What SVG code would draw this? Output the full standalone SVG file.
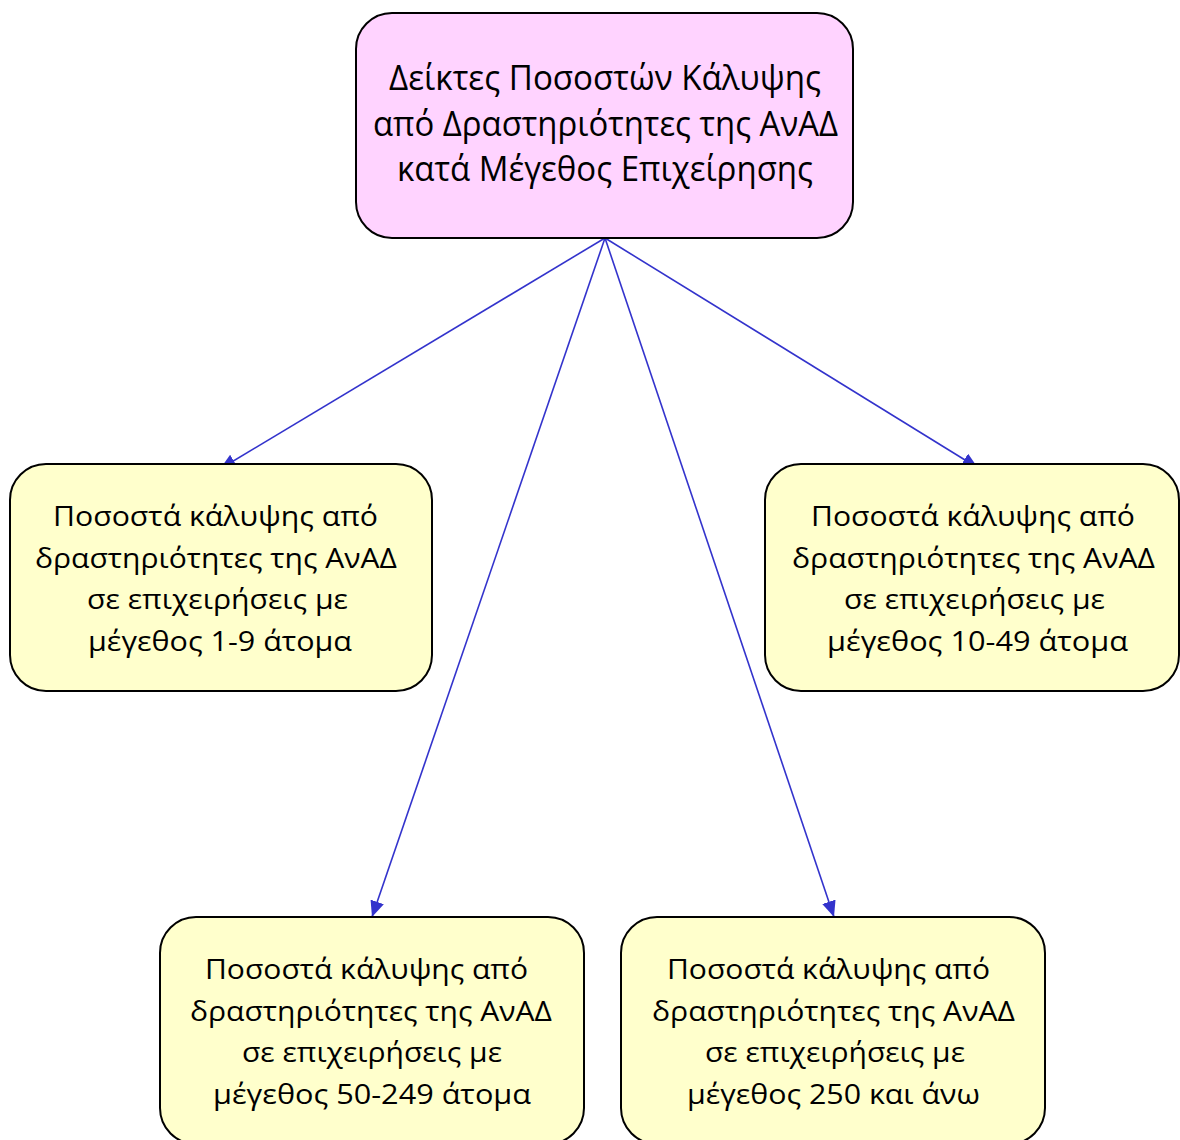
<svg xmlns="http://www.w3.org/2000/svg" width="1180" height="1140" viewBox="0 0 1180 1140">
  <style>
    .box { stroke: #000; stroke-width: 2; }
    .top { fill: #FFD3FF; }
    .sub { fill: #FFFFCC; }
    .t { font-family: "Open Sans", "Noto Sans", "DejaVu Sans", sans-serif; fill: #000; }
    .t1 { font-size: 34px; }
    .t2 { font-size: 28px; }
    .conn { stroke: #3333CC; stroke-width: 1.6; fill: none; marker-end: url(#ah); }
  </style>
  <defs>
    <marker id="ah" markerUnits="userSpaceOnUse" viewBox="0 0 16 14" markerWidth="16" markerHeight="14" refX="16" refY="7" orient="auto">
      <path d="M0,0 L16,7 L0,14 z" fill="#3333CC"/>
    </marker>
  </defs>
  <rect width="1180" height="1140" fill="#fff"/>

  <g id="connectors">
    <line class="conn" x1="605" y1="238" x2="220" y2="469"/>
    <line class="conn" x1="605" y1="238" x2="978" y2="468"/>
    <line class="conn" x1="605" y1="238" x2="372" y2="917"/>
    <line class="conn" x1="605" y1="238" x2="834" y2="917"/>
  </g>

  <g id="root">
    <rect class="box top" x="356" y="13" width="497" height="225" rx="36"/>
    <text class="t t1" x="389" y="90" textLength="432" lengthAdjust="spacingAndGlyphs">Δείκτες Ποσοστών Κάλυψης</text>
    <text class="t t1" x="373" y="136" textLength="465" lengthAdjust="spacingAndGlyphs">από Δραστηριότητες της ΑνΑΔ</text>
    <text class="t t1" x="397" y="181" textLength="416" lengthAdjust="spacingAndGlyphs">κατά Μέγεθος Επιχείρησης</text>
  </g>

  <g id="size-1-9">
    <rect class="box sub" x="10" y="464" width="422" height="227" rx="36"/>
    <text class="t t2" x="53" y="526" textLength="325" lengthAdjust="spacingAndGlyphs">Ποσοστά κάλυψης από</text>
    <text class="t t2" x="35" y="567.5" textLength="362" lengthAdjust="spacingAndGlyphs">δραστηριότητες της ΑνΑΔ</text>
    <text class="t t2" x="87" y="609" textLength="261" lengthAdjust="spacingAndGlyphs">σε επιχειρήσεις με</text>
    <text class="t t2" x="88" y="650.5" textLength="264" lengthAdjust="spacingAndGlyphs">μέγεθος 1-9 άτομα</text>
  </g>

  <g id="size-10-49">
    <rect class="box sub" x="765" y="464" width="414" height="227" rx="36"/>
    <text class="t t2" x="811" y="526" textLength="324" lengthAdjust="spacingAndGlyphs">Ποσοστά κάλυψης από</text>
    <text class="t t2" x="792" y="567.5" textLength="363" lengthAdjust="spacingAndGlyphs">δραστηριότητες της ΑνΑΔ</text>
    <text class="t t2" x="844" y="609" textLength="261" lengthAdjust="spacingAndGlyphs">σε επιχειρήσεις με</text>
    <text class="t t2" x="827" y="650.5" textLength="301" lengthAdjust="spacingAndGlyphs">μέγεθος 10-49 άτομα</text>
  </g>

  <g id="size-50-249">
    <rect class="box sub" x="160" y="917" width="424" height="227" rx="36"/>
    <text class="t t2" x="205" y="979" textLength="323" lengthAdjust="spacingAndGlyphs">Ποσοστά κάλυψης από</text>
    <text class="t t2" x="190" y="1020.5" textLength="362" lengthAdjust="spacingAndGlyphs">δραστηριότητες της ΑνΑΔ</text>
    <text class="t t2" x="242" y="1062" textLength="260" lengthAdjust="spacingAndGlyphs">σε επιχειρήσεις με</text>
    <text class="t t2" x="213" y="1103.5" textLength="318" lengthAdjust="spacingAndGlyphs">μέγεθος 50-249 άτομα</text>
  </g>

  <g id="size-250-plus">
    <rect class="box sub" x="621" y="917" width="424" height="227" rx="36"/>
    <text class="t t2" x="667" y="979" textLength="323" lengthAdjust="spacingAndGlyphs">Ποσοστά κάλυψης από</text>
    <text class="t t2" x="652" y="1020.5" textLength="363" lengthAdjust="spacingAndGlyphs">δραστηριότητες της ΑνΑΔ</text>
    <text class="t t2" x="705" y="1062" textLength="260" lengthAdjust="spacingAndGlyphs">σε επιχειρήσεις με</text>
    <text class="t t2" x="687" y="1103.5" textLength="293" lengthAdjust="spacingAndGlyphs">μέγεθος 250 και άνω</text>
  </g>
</svg>
